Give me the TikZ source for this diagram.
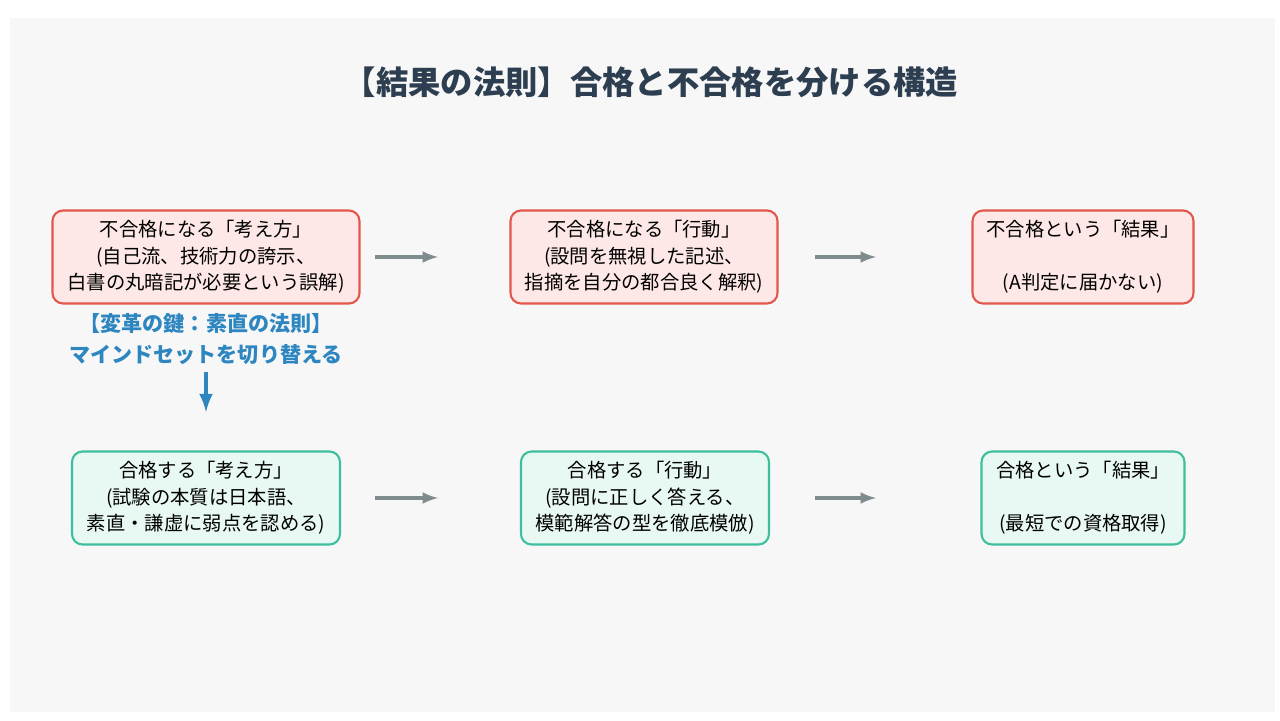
\documentclass[tikz,border=0pt]{standalone}
\usepackage{fontspec}
\setmainfont{Noto Sans CJK JP}
\definecolor{badfill}{HTML}{FDE8E7}
\definecolor{baddraw}{HTML}{E2574C}
\definecolor{goodfill}{HTML}{E8F8F3}
\definecolor{gooddraw}{HTML}{3DBF9E}
\definecolor{arrowgray}{HTML}{7F8C8D}
\definecolor{keyblue}{HTML}{2E86C1}
\definecolor{titledark}{HTML}{2C3E50}
\tikzset{
  box/.style={rounded corners=6pt, line width=1.2pt, align=center, font=\fontsize{11}{15}\selectfont, inner sep=0pt},
  bad/.style={box, fill=badfill, draw=baddraw},
  good/.style={box, fill=goodfill, draw=gooddraw},
  flow/.style={-latex, draw=arrowgray, line width=2pt},
}
\begin{document}
\begin{tikzpicture}[x=0.02cm,y=-0.02cm]
  \useasboundingbox (0,0) rectangle (1280,720);
  \fill[white] (0,0) rectangle (1280,720);
  \fill[black!3] (10,18) rectangle (1275,712);

  \node[font=\fontsize{18.4}{21}\selectfont\bfseries, text=titledark] (title) at (651,82) {【結果の法則】合格と不合格を分ける構造};

  % bad row
  \node[bad, minimum width=307*0.02cm, minimum height=93*0.02cm] (badmind) at (206,257) {不合格になる「考え方」\\(自己流、技術力の誇示、\\白書の丸暗記が必要という誤解)};
  \node[bad, minimum width=267*0.02cm, minimum height=93*0.02cm] (badact) at (644,257) {不合格になる「行動」\\(設問を無視した記述、\\指摘を自分の都合良く解釈)};
  \node[bad, minimum width=221*0.02cm, minimum height=93*0.02cm] (badres) at (1083,257) {不合格という「結果」\\[15pt](A判定に届かない)};

  % good row
  \node[good, minimum width=268*0.02cm, minimum height=93*0.02cm] (goodmind) at (206,498) {合格する「考え方」\\(試験の本質は日本語、\\素直・謙虚に弱点を認める)};
  \node[good, minimum width=248*0.02cm, minimum height=93*0.02cm] (goodact) at (645,498) {合格する「行動」\\(設問に正しく答える、\\模範解答の型を徹底模倣)};
  \node[good, minimum width=203*0.02cm, minimum height=93*0.02cm] (goodres) at (1083,498) {合格という「結果」\\[15pt](最短での資格取得)};

  % arrows
  \coordinate (a1s) at (375,257); \coordinate (a1e) at (438,257);
  \coordinate (a2s) at (815,257); \coordinate (a2e) at (876,257);
  \coordinate (a3s) at (375,498); \coordinate (a3e) at (438,498);
  \coordinate (a4s) at (815,498); \coordinate (a4e) at (876,498);
  \draw[flow] (a1s) -- (a1e);
  \draw[flow] (a2s) -- (a2e);
  \draw[flow] (a3s) -- (a3e);
  \draw[flow] (a4s) -- (a4e);

  % key
  \node[font=\fontsize{12}{18}\selectfont\bfseries, text=keyblue, align=center] (key) at (206,339) {【変革の鍵：素直の法則】\\マインドセットを切り替える};
  \coordinate (k1) at (206,372); \coordinate (k2) at (206,412);
  \draw[-latex, keyblue, line width=2.5pt] (k1) -- (k2);
\end{tikzpicture}
\end{document}
